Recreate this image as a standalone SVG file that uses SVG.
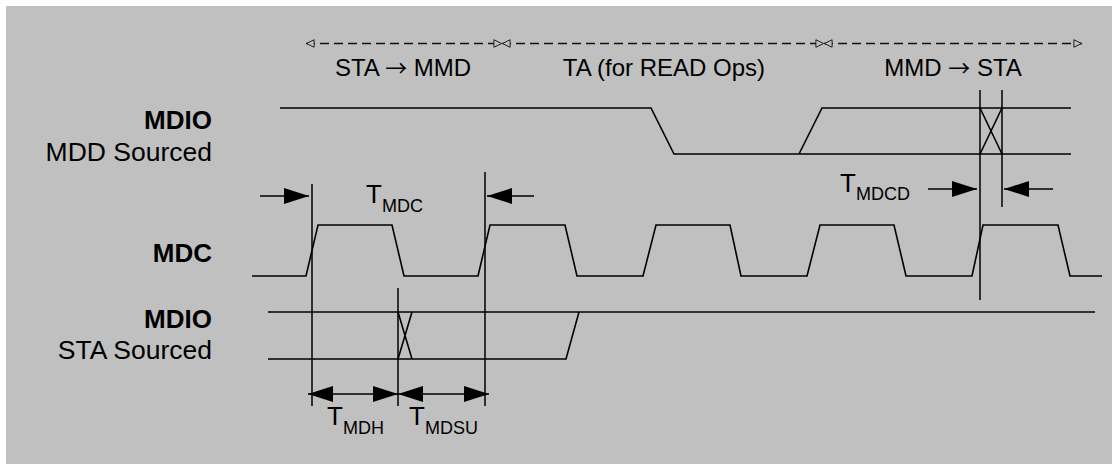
<svg xmlns="http://www.w3.org/2000/svg" width="1112" height="464" viewBox="0 0 1112 464">
<style>
.bg{fill:#c0c0c0}
.sig{fill:none;stroke:#000;stroke-width:1.6;stroke-linejoin:miter}
.ref{fill:none;stroke:#000;stroke-width:1.5}
.dash{fill:none;stroke:#111;stroke-width:1.3;stroke-dasharray:9 5}
.dim{fill:none;stroke:#000;stroke-width:1.5}
.t{font-family:"Liberation Sans",Arial,Helvetica,sans-serif;fill:#000}
.lbl{font-size:26.5px;text-anchor:end}
.b{font-weight:bold;font-size:26px}
.top{font-size:24px;text-anchor:middle}
.arr{font-family:"Noto Sans CJK SC","DejaVu Sans",sans-serif;font-size:22px}
.tm{font-size:26px}
.sub{font-size:18px}
</style>
<defs>
<marker id="openL" viewBox="0 0 10 10" refX="0" refY="5" markerWidth="9" markerHeight="10" markerUnits="userSpaceOnUse" orient="auto">
<path d="M0.5,5 L9,0.8 L9,9.2 Z" fill="#c0c0c0" stroke="#111" stroke-width="1"/>
</marker>
<marker id="openR" viewBox="0 0 10 10" refX="10" refY="5" markerWidth="9" markerHeight="10" markerUnits="userSpaceOnUse" orient="auto">
<path d="M9.5,5 L1,0.8 L1,9.2 Z" fill="#c0c0c0" stroke="#111" stroke-width="1"/>
</marker>
<marker id="fill" viewBox="0 0 25 16" refX="25" refY="8" markerWidth="25" markerHeight="16" markerUnits="userSpaceOnUse" orient="auto-start-reverse">
<path d="M0,0 L25,8 L0,16 Z" fill="#000"/>
</marker>
</defs>
<rect class="bg" x="6" y="6" width="1106" height="458"/>

<g id="phase-labels">
<text class="t top" x="403" y="76">STA <tspan class="arr">→</tspan> MMD</text>
<text class="t top" x="664" y="76">TA (for READ Ops)</text>
<text class="t top" x="953" y="76">MMD <tspan class="arr">→</tspan> STA</text>
</g>

<g id="label-mdio-mdd">
<text class="t lbl b" x="212" y="129">MDIO</text>
<text class="t lbl" x="212" y="161">MDD Sourced</text>
</g>
<g id="label-mdc">
<text class="t lbl b" x="212" y="262">MDC</text>
</g>
<g id="label-mdio-sta">
<text class="t lbl b" x="212" y="328">MDIO</text>
<text class="t lbl" x="212" y="359">STA Sourced</text>
</g>

<g id="signal-mdio-mdd">
<path class="sig" d="M280,108 H651 L674,154 H1071 M799,154 L822,108 H1071 M980,108 L1002,154 M980,154 L1002,108"/>
</g>
<g id="signal-mdc">
<polyline class="sig" points="252,276 306,276 318,225 392,225 404,276 478,276 490,225 565,225 577,276 643,276 656,225 730,225 741,276 807,276 820,225 894,225 906,276 972,276 983,225 1058,225 1070,276 1102,276"/>
</g>
<g id="signal-mdio-sta">
<path class="sig" d="M268,312 H1095 M268,359 H566 L579,312 M398,312 L412,359 M398,359 L412,312"/>
</g>

<g id="timing-labels">
<text class="t tm" x="366" y="203">T<tspan class="sub" dy="9">MDC</tspan></text>
<text class="t tm" x="840" y="192">T<tspan class="sub" dy="8">MDCD</tspan></text>
<text class="t tm" x="327" y="425">T<tspan class="sub" dy="9">MDH</tspan></text>
<text class="t tm" x="409" y="425">T<tspan class="sub" dy="9">MDSU</tspan></text>
</g>

<g id="connectors">
<line class="dash" x1="306" y1="43.5" x2="502" y2="43.5" marker-start="url(#openL)" marker-end="url(#openR)"/>
<line class="dash" x1="502" y1="43.5" x2="824" y2="43.5" marker-start="url(#openL)" marker-end="url(#openR)"/>
<line class="dash" x1="824" y1="43.5" x2="1082" y2="43.5" marker-start="url(#openL)" marker-end="url(#openR)"/>
<line class="ref" x1="312" y1="184" x2="312" y2="406"/>
<line class="ref" x1="485" y1="172" x2="485" y2="406"/>
<line class="ref" x1="398" y1="288" x2="398" y2="406"/>
<line class="ref" x1="980" y1="90" x2="980" y2="300"/>
<line class="ref" x1="1002" y1="90" x2="1002" y2="207"/>
<line class="dim" x1="260" y1="196" x2="309" y2="196" marker-end="url(#fill)"/>
<line class="dim" x1="534" y1="196" x2="487" y2="196" marker-end="url(#fill)"/>
<line class="dim" x1="928" y1="189" x2="977" y2="189" marker-end="url(#fill)"/>
<line class="dim" x1="1053" y1="189" x2="1004" y2="189" marker-end="url(#fill)"/>
<line class="dim" x1="308" y1="394" x2="398" y2="394" marker-start="url(#fill)" marker-end="url(#fill)"/>
<line class="dim" x1="398" y1="394" x2="489" y2="394" marker-start="url(#fill)" marker-end="url(#fill)"/>
</g>
</svg>
